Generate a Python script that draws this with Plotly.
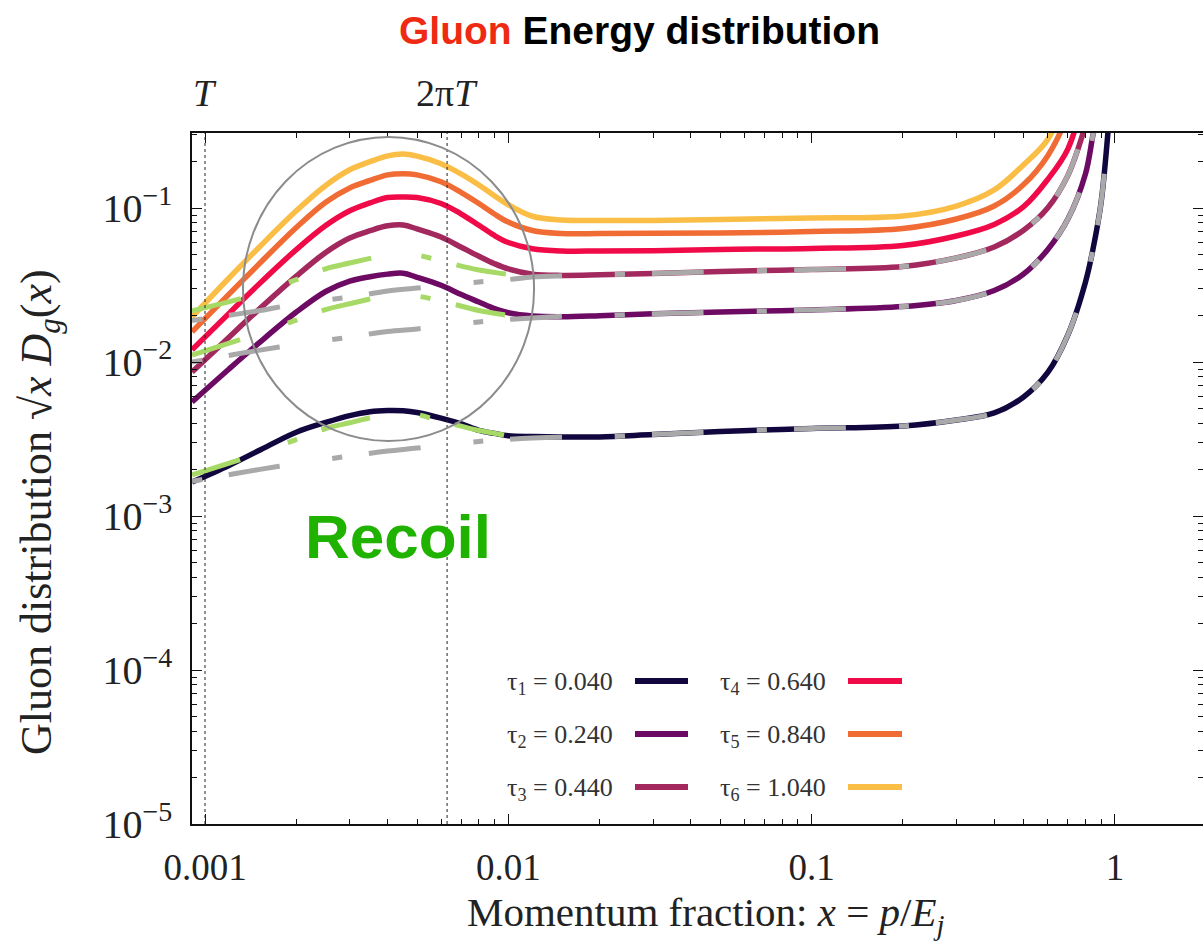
import math
import plotly.graph_objects as go

# ---------------------------------------------------------------- data
# momentum fraction grid for the full (recoil) distributions
x_grid = [0.000906, 0.0012, 0.0015, 0.002, 0.0025, 0.003, 0.0035, 0.004, 0.0045,
          0.005, 0.006, 0.007, 0.008, 0.009, 0.01, 0.012, 0.015, 0.02, 0.03, 0.05,
          0.1, 0.2, 0.3, 0.4, 0.5, 0.6, 0.7, 0.8, 0.85, 0.9, 0.95]

tau1 = [0.00166, 0.00213, 0.00265, 0.00350, 0.00405, 0.00449, 0.00476, 0.00484, 0.00482,
        0.00470, 0.00432, 0.00396, 0.00360, 0.00344, 0.00332, 0.00328, 0.00326, 0.00326,
        0.00338, 0.00354, 0.00370, 0.00384, 0.00420, 0.00467, 0.00593, 0.00852, 0.0150,
        0.0331, 0.0562, 0.108, 0.321]
tau2 = [0.00550, 0.00901, 0.0132, 0.0211, 0.0287, 0.0335, 0.0358, 0.0372, 0.0377,
        0.0355, 0.0315, 0.0274, 0.0245, 0.0222, 0.0209, 0.0199, 0.0197, 0.0200,
        0.0206, 0.0211, 0.0218, 0.0229, 0.0251, 0.0291, 0.0373, 0.0536, 0.0848,
        0.167, 0.310, 0.503]
tau3 = [0.00861, 0.0145, 0.0218, 0.0361, 0.0515, 0.0639, 0.0712, 0.0766, 0.0776,
        0.0731, 0.0648, 0.0556, 0.0486, 0.0435, 0.0402, 0.0372, 0.0365, 0.0368,
        0.0376, 0.0387, 0.0399, 0.0417, 0.0474, 0.0558, 0.0718, 0.100, 0.163, 0.346]
tau4 = [0.0120, 0.0207, 0.0318, 0.0537, 0.0769, 0.0959, 0.108, 0.117, 0.118,
        0.117, 0.107, 0.0914, 0.0773, 0.0663, 0.0597, 0.0544, 0.0526, 0.0526,
        0.0528, 0.0538, 0.0546, 0.0571, 0.0658, 0.0782, 0.102, 0.153, 0.242, 0.584]
tau5 = [0.0157, 0.0276, 0.0429, 0.0747, 0.109, 0.135, 0.151, 0.164, 0.167,
        0.164, 0.148, 0.126, 0.107, 0.0914, 0.0810, 0.0714, 0.0683, 0.0683,
        0.0685, 0.0688, 0.0704, 0.0736, 0.0848, 0.103, 0.142, 0.218, 0.402, 0.914]
tau6 = [0.0196, 0.0351, 0.0550, 0.0959, 0.140, 0.177, 0.200, 0.218, 0.224,
        0.217, 0.194, 0.166, 0.141, 0.120, 0.105, 0.0884, 0.0836, 0.0830,
        0.0830, 0.0842, 0.0861, 0.0887, 0.103, 0.131, 0.191, 0.278, 0.542, 1.23]

# distributions without medium recoil (grey dashed)
x_norecoil = [0.000906, 0.0015, 0.002, 0.003, 0.004, 0.005, 0.006, 0.008, 0.01, 0.012,
              0.015, 0.02, 0.03, 0.05, 0.1, 0.2, 0.3, 0.4, 0.5, 0.6, 0.7, 0.8, 0.85,
              0.9, 0.95]
norecoil1 = [0.00168, 0.00200, 0.00219, 0.00245, 0.00264, 0.00276, 0.00289, 0.00305,
             0.00315, 0.00321, 0.00325, 0.00326, 0.00338, 0.00354, 0.00370, 0.00384,
             0.00420, 0.00467, 0.00593, 0.00852, 0.0150, 0.0331, 0.0562, 0.108, 0.321]
norecoil2 = [0.0100, 0.0119, 0.0130, 0.0145, 0.0158, 0.0164, 0.0171, 0.0182, 0.0189,
             0.0193, 0.0198, 0.0200, 0.0206, 0.0211, 0.0218, 0.0229, 0.0251, 0.0291,
             0.0373, 0.0536, 0.0848, 0.167, 0.310, 0.503]
norecoil3 = [0.0186, 0.0215, 0.0238, 0.0264, 0.0289, 0.0302, 0.0314, 0.0331, 0.0343,
             0.0356, 0.0363, 0.0368, 0.0376, 0.0387, 0.0399, 0.0417, 0.0474, 0.0558,
             0.0718, 0.100, 0.163, 0.346]

# recoil contribution in the soft region (green dashed)
x_recoil = [0.000906, 0.0015, 0.002, 0.0025, 0.003, 0.004, 0.0045, 0.005, 0.006,
            0.008, 0.01, 0.0105]
recoil1 = [0.00185, 0.00255, 0.00314, 0.00370, 0.00403, 0.00460, 0.00467, 0.00456,
           0.00414, 0.00359, 0.00331, 0.00321]
recoil2 = [0.0111, 0.0153, 0.0187, 0.0219, 0.0239, 0.0270, 0.0272, 0.0268, 0.0249,
           0.0216, 0.0200, 0.0196]
recoil3 = [0.0215, 0.0278, 0.0343, 0.0403, 0.0439, 0.0495, 0.0503, 0.0495, 0.0453,
           0.0396, 0.0370, 0.0362]

tau_labels = ["τ<sub>1</sub> = 0.040", "τ<sub>2</sub> = 0.240", "τ<sub>3</sub> = 0.440",
              "τ<sub>4</sub> = 0.640", "τ<sub>5</sub> = 0.840", "τ<sub>6</sub> = 1.040"]
tau_series = [tau1, tau2, tau3, tau4, tau5, tau6]
norecoil_series = [norecoil1, norecoil2, norecoil3]
recoil_series = [recoil1, recoil2, recoil3]

x_tickvals = [0.001, 0.01, 0.1, 1]
x_ticktext = ["0.001", "0.01", "0.1", "1"]
y_tickvals = [1e-5, 1e-4, 1e-3, 1e-2, 1e-1]
y_ticktext = ["10<sup>−5</sup>", "10<sup>−4</sup>", "10<sup>−3</sup>",
              "10<sup>−2</sup>", "10<sup>−1</sup>"]

T_scale = 0.001  # temperature in units of the jet energy

# ---------------------------------------------------------------- style
colors = ["#12063e", "#6c0a64", "#a2285e", "#f00a47", "#f06c34", "#fabe47"]
grey = "#a9a9a9"
green = "#a6d965"
serif = "Liberation Serif, Times New Roman, serif"
sans = "Liberation Sans, Arial, sans-serif"

W, H = 1203, 949
ML, MR, MT, MB = 192, 0, 133, 125


def px_x(p):
    return (p - ML) / (W - ML - MR)


def px_y(p):
    return (H - MB - p) / (H - MT - MB)


fig = go.Figure()

line_shape = dict(shape="spline", smoothing=1.0)

for ys, c in zip(tau_series, colors):
    fig.add_trace(go.Scatter(x=x_grid[:len(ys)], y=ys, mode="lines",
                             line=dict(color=c, width=5.5, **line_shape),
                             hoverinfo="skip", showlegend=False))

for ys in norecoil_series:
    fig.add_trace(go.Scatter(x=x_norecoil[:len(ys)], y=ys, mode="lines",
                             line=dict(color=grey, width=5, dash="10px,27px,52px,53px",
                                       **line_shape),
                             hoverinfo="skip", showlegend=False))

for ys in recoil_series:
    fig.add_trace(go.Scatter(x=x_recoil, y=ys, mode="lines",
                             line=dict(color=green, width=5, dash="50px,51px,10px,26px",
                                       **line_shape),
                             hoverinfo="skip", showlegend=False))

# invisible trace so the right-hand tick axis gets drawn
fig.add_trace(go.Scatter(x=[x_grid[0]], y=[tau1[0]], yaxis="y2", mode="lines",
                         opacity=0, hoverinfo="skip", showlegend=False))


def minor_vals(lo, hi):
    out = []
    for e in range(lo, hi + 1):
        for m in range(2, 10):
            out.append(m * 10.0 ** e)
    return out


minor_x = dict(tickmode="array", tickvals=minor_vals(-4, 0), ticks="inside",
               ticklen=5, tickcolor="#111", showgrid=False)
minor_y = dict(tickmode="array", tickvals=minor_vals(-6, -1), ticks="inside",
               ticklen=5, tickcolor="#111", showgrid=False)

fig.update_layout(
    width=W, height=H,
    margin=dict(l=ML, r=MR, t=MT, b=MB),
    paper_bgcolor="white", plot_bgcolor="white",
    showlegend=False,
    xaxis=dict(type="log", range=[-3.0429, 0.2905], tickmode="array",
               tickvals=x_tickvals, ticktext=x_ticktext, ticklabelstandoff=10,
               showgrid=False, zeroline=False, showline=True, linecolor="#111",
               linewidth=1.5, mirror="ticks", ticks="inside", ticklen=10,
               tickcolor="#111", tickfont=dict(family=serif, size=37, color="#222"),
               minor=minor_x),
    yaxis=dict(type="log", range=[-5, -0.513], tickmode="array",
               tickvals=y_tickvals, ticktext=y_ticktext, ticklabelstandoff=10,
               showgrid=False, zeroline=False, showline=True, linecolor="#111",
               linewidth=1.5, mirror=False, ticks="inside", ticklen=10,
               tickcolor="#111", tickfont=dict(family=serif, size=40, color="#222"),
               minor=minor_y),
    yaxis2=dict(type="log", overlaying="y", side="right", matches="y",
                tickmode="array", tickvals=y_tickvals, showticklabels=False,
                showgrid=False, zeroline=False, showline=False, ticks="inside",
                ticklen=10, tickcolor="#111", minor=minor_y),
)

shapes = []
# temperature markers
for xv in (T_scale, 2 * math.pi * T_scale):
    shapes.append(dict(type="line", xref="x", yref="paper", x0=xv, x1=xv, y0=0, y1=1,
                       line=dict(color="#222", width=1, dash="dot")))
# recoil region highlight
shapes.append(dict(type="circle", xref="x", yref="y", x0=0.001334, x1=0.01216,
                   y0=0.00307, y1=0.289, line=dict(color="#8c8c8c", width=2)))

annotations = []
# legend: label then line sample, two columns
rows_y = [681, 734, 787]
for i, (lab, c) in enumerate(zip(tau_labels, colors)):
    col, row = divmod(i, 3)
    text_right = [615, 828][col]
    line_x = [(635, 688), (848, 902)][col]
    yy = rows_y[row]
    annotations.append(dict(xref="paper", yref="paper", x=px_x(text_right), y=px_y(yy + 2),
                            text=lab, showarrow=False, xanchor="right", yanchor="middle",
                            font=dict(family=serif, size=26, color="#333")))
    shapes.append(dict(type="line", xref="paper", yref="paper",
                       x0=px_x(line_x[0]), x1=px_x(line_x[1]),
                       y0=px_y(yy), y1=px_y(yy), line=dict(color=c, width=6)))

# title
annotations.append(dict(xref="paper", yref="paper", x=px_x(639), y=px_y(30),
                        text="<b><span style='color:#ee2a12'>Gluon</span> Energy distribution</b>",
                        showarrow=False, xanchor="center", yanchor="middle",
                        font=dict(family=sans, size=39, color="#000")))
# temperature labels above the frame
annotations.append(dict(xref="x", yref="paper", x=math.log10(T_scale), y=px_y(93),
                        text="<i>T</i>", showarrow=False, xanchor="center", yanchor="middle",
                        font=dict(family=serif, size=38, color="#222")))
annotations.append(dict(xref="x", yref="paper", x=math.log10(2 * math.pi * T_scale),
                        y=px_y(93), text="2π<i>T</i>", showarrow=False, xanchor="center",
                        yanchor="middle", font=dict(family=serif, size=38, color="#222")))
# axis titles
annotations.append(dict(xref="paper", yref="paper", x=px_x(40), y=px_y(512),
                        text="Gluon distribution √<i>x</i> <i>D<sub>g</sub></i>(<i>x</i>)",
                        textangle=-90, showarrow=False, xanchor="center", yanchor="middle",
                        font=dict(family=serif, size=44, color="#222")))
annotations.append(dict(xref="paper", yref="paper", x=px_x(705), y=px_y(915),
                        text="Momentum fraction: <i>x</i> = <i>p</i>/<i>E<sub>j</sub></i>",
                        showarrow=False, xanchor="center", yanchor="middle",
                        font=dict(family=serif, size=41, color="#222")))
# recoil label
annotations.append(dict(xref="paper", yref="paper", x=px_x(398), y=px_y(536),
                        text="<b>Recoil</b>", showarrow=False, xanchor="center",
                        yanchor="middle", font=dict(family=sans, size=62, color="#1fb300")))

fig.update_layout(shapes=shapes, annotations=annotations)
fig.write_html("out.html")
